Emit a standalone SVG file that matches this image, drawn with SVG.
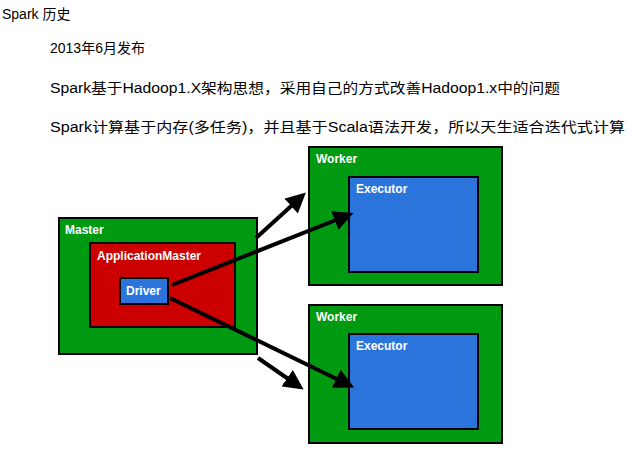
<svg xmlns="http://www.w3.org/2000/svg" width="632" height="453" viewBox="0 0 632 453">
<style>
text{font-family:"Liberation Sans","Noto Sans CJK SC",sans-serif;}
.t{font-size:14px;fill:#000}
.l{font-size:12px;fill:#fff;font-weight:bold}
.box{stroke:#000;stroke-width:2}
.c{stroke:#000;stroke-width:4;fill:none;marker-end:url(#a)}
</style>
<defs><marker id="a" markerWidth="5" markerHeight="5" refX="3" refY="2.5" orient="auto"><path d="M0,0L5,2.5L0,5z" fill="#000"/></marker></defs>
<rect width="632" height="453" fill="#fff"/>
<text class="t" x="2" y="19">Spark 历史</text>
<text class="t" x="50" y="53">2013年6月发布</text>
<text class="t" x="50" y="93" textLength="510" lengthAdjust="spacingAndGlyphs">Spark基于Hadoop1.X架构思想，采用自己的方式改善Hadoop1.x中的问题</text>
<text class="t" x="50" y="132" textLength="575" lengthAdjust="spacingAndGlyphs">Spark计算基于内存(多任务)，并且基于Scala语法开发，所以天生适合迭代式计算</text>
<g id="master"><rect class="box" x="59" y="218" width="198" height="136" fill="#009a12"/><text class="l" x="65" y="234">Master</text></g>
<g id="appmaster"><rect class="box" x="90" y="243" width="145" height="84" fill="#cc0000"/><text class="l" x="97" y="260">ApplicationMaster</text></g>
<g id="driver"><rect class="box" x="120" y="278" width="48" height="26" fill="#2a74dc"/><text class="l" x="126" y="295">Driver</text></g>
<g id="worker1"><rect class="box" x="309" y="147" width="193" height="138" fill="#009a12"/><text class="l" x="316" y="163">Worker</text></g>
<g id="executor1"><rect class="box" x="349" y="177" width="129" height="95" fill="#2a74dc"/><text class="l" x="356" y="193">Executor</text></g>
<g id="worker2"><rect class="box" x="309" y="305" width="193" height="138" fill="#009a12"/><text class="l" x="316" y="321">Worker</text></g>
<g id="executor2"><rect class="box" x="349" y="334" width="129" height="95" fill="#2a74dc"/><text class="l" x="356" y="350">Executor</text></g>
<g id="connectors">
<line class="c" x1="256" y1="238" x2="300" y2="198"/>
<line class="c" x1="172" y1="285" x2="346" y2="216"/>
<line class="c" x1="170" y1="298" x2="347" y2="384"/>
<line class="c" x1="258" y1="358" x2="297" y2="385"/>
</g>
</svg>
